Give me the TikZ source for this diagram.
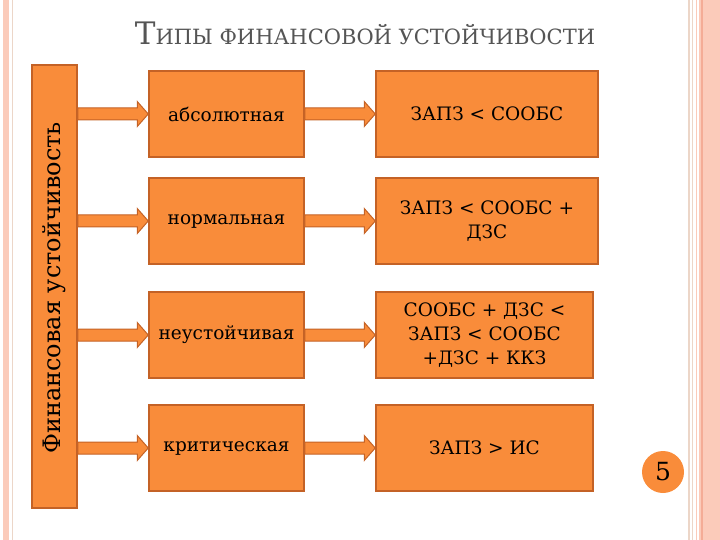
\documentclass[tikz,border=0pt]{standalone}
\usepackage{fontspec}
\setmainfont{DejaVu Serif}
\usetikzlibrary{calc}
\definecolor{boxfill}{RGB}{249,140,58}
\definecolor{boxline}{RGB}{196,98,38}
\definecolor{titlegray}{RGB}{85,85,85}
\definecolor{salmon}{RGB}{251,203,186}
\definecolor{salmondark}{RGB}{244,172,150}
\definecolor{paleline}{RGB}{236,214,200}
\tikzset{
  typebox/.style={draw=boxline, line width=1.5pt, fill=boxfill, rectangle,
    minimum height=86pt, align=center, text=black, inner sep=2pt},
  kindbox/.style={typebox, minimum width=155pt, font=\fontsize{18.5}{22}\selectfont},
  condbox/.style={typebox, font=\fontsize{18.5}{24}\selectfont},
  blockarrow/.style={draw=boxline, line width=1pt, fill=boxfill},
}
% block arrow from the east side of #1 to the west side of #2
\newcommand\blockarrow[2]{%
  \filldraw[blockarrow] let \p1=(#1.east), \p2=(#2.west) in
    (\x1,\y2+6pt) -- (\x2-11pt,\y2+6pt) -- (\x2-11pt,\y2+12.5pt) -- (\x2,\y2)
    -- (\x2-11pt,\y2-12.5pt) -- (\x2-11pt,\y2-6pt) -- (\x1,\y2-6pt) -- cycle;}
\begin{document}
\begin{tikzpicture}[x=1pt, y=-1pt]
  \useasboundingbox (0,0) rectangle (720,540);
  % side borders
  \fill[salmon] (3,0) rectangle (9,540);
  \draw[paleline, line width=1pt] (12.5,0) -- (12.5,540);
  \draw[paleline, line width=1.5pt] (689,0) -- (689,540);
  \draw[paleline, line width=1pt] (692.5,0) -- (692.5,540);
  \draw[salmon, line width=1pt] (696,0) -- (696,540);
  \fill[salmon] (699,0) rectangle (720,540);
  \draw[salmondark, line width=1.5pt] (702,0) -- (702,540);

  % title
  \node[titlegray, anchor=base] (title) at (365,45)
    {{\fontsize{31}{36}\selectfont Т}{\fontsize{21}{26}\selectfont ИПЫ ФИНАНСОВОЙ УСТОЙЧИВОСТИ}};

  % left bar
  \node[typebox, minimum width=45pt, minimum height=443pt, inner sep=0pt] (bar) at (54.5,286.5) {};
  \node[rotate=90, font=\fontsize{24}{28}\selectfont] (bartext) at (54.5,288) {Финансовая устойчивость};

  % kinds
  \node[kindbox] (absol) at (226.5,114) {абсолютная};
  \node[kindbox] (normal) at (226.5,221) {нормальная};
  \node[kindbox] (unstab) at (226.5,335) {неустойчивая};
  \node[kindbox] (crit) at (226.5,448) {критическая};

  % conditions
  \node[condbox, minimum width=222pt] (c1) at (487,114) {ЗАПЗ < СООБС};
  \node[condbox, minimum width=222pt] (c2) at (487,221) {ЗАПЗ < СООБС +\\ДЗС};
  \node[condbox, minimum width=217pt] (c3) at (484.5,335) {СООБС + ДЗС <\\ЗАПЗ < СООБС\\+ДЗС + ККЗ};
  \node[condbox, minimum width=217pt] (c4) at (484.5,448) {ЗАПЗ > ИС};

  % arrows
  \blockarrow{bar}{absol}
  \blockarrow{bar}{normal}
  \blockarrow{bar}{unstab}
  \blockarrow{bar}{crit}
  \blockarrow{absol}{c1}
  \blockarrow{normal}{c2}
  \blockarrow{unstab}{c3}
  \blockarrow{crit}{c4}

  % page number
  \node[circle, fill=boxfill, minimum size=42pt, inner sep=0pt, font=\fontsize{25}{28}\selectfont] (pagenum) at (663,472) {5};
\end{tikzpicture}
\end{document}
